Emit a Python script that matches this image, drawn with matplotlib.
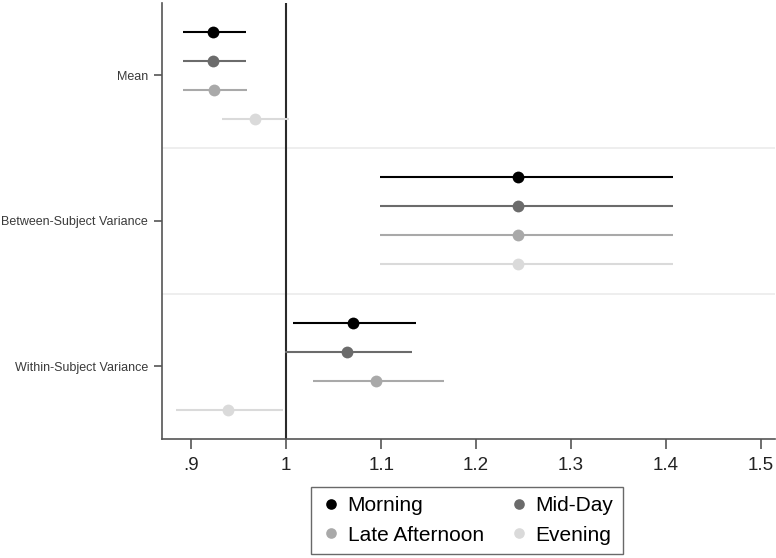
import matplotlib
matplotlib.use("Agg")
import matplotlib.pyplot as plt
import numpy as np

plt.rcParams['font.family'] = ['Liberation Sans', 'DejaVu Sans']

groups = ["Mean", "Between-Subject Variance", "Within-Subject Variance"]
series = ["Morning", "Mid-Day", "Late Afternoon", "Evening"]
colors = ["#000000", "#6b6b6b", "#a9a9a9", "#dadada"]

est = {
    "Morning":        [0.923, 1.244, 1.070],
    "Mid-Day":        [0.923, 1.244, 1.064],
    "Late Afternoon": [0.924, 1.244, 1.095],
    "Evening":        [0.967, 1.244, 0.939],
}
lo = {
    "Morning":        [0.891, 1.099, 1.007],
    "Mid-Day":        [0.891, 1.099, 0.999],
    "Late Afternoon": [0.891, 1.099, 1.028],
    "Evening":        [0.932, 1.099, 0.884],
}
hi = {
    "Morning":        [0.957, 1.408, 1.137],
    "Mid-Day":        [0.958, 1.408, 1.132],
    "Late Afternoon": [0.959, 1.408, 1.166],
    "Evening":        [1.003, 1.408, 0.996],
}
xticks = [0.9, 1.0, 1.1, 1.2, 1.3, 1.4, 1.5]
xticklabels = [".9", "1", "1.1", "1.2", "1.3", "1.4", "1.5"]

fig = plt.figure(figsize=(7.76, 5.58), dpi=100)
ax = fig.add_axes([162/776, 1-439/558, (775-162)/776, (439-2.7)/558])

nslot = 5
handles = {}
for i, s in enumerate(series):
    y = np.arange(len(groups)) * nslot + i + 1
    e = np.array(est[s]); l = np.array(lo[s]); h = np.array(hi[s])
    ax.hlines(y, l, h, color=colors[i], lw=1.5, zorder=3)
    handles[s], = ax.plot(e, y, 'o', color=colors[i], ms=8.5, mec='none', zorder=4, label=s)

for k in range(1, len(groups)):
    ax.axhline(k * nslot, color="#ebebeb", lw=1.2, zorder=1)

ax.axvline(1.0, color="#2a2a2a", lw=1.5, zorder=2)

ax.set_ylim(len(groups) * nslot, 0)
ax.set_xlim(0.869, 1.515)
ax.set_yticks(np.arange(len(groups)) * nslot + 2.5)
ax.set_yticklabels(groups, fontsize=9.0, color="#3a3a3a")
ax.set_xticks(xticks)
ax.set_xticklabels(xticklabels, fontsize=13.5, color="#222222")

for sp in ["top", "right"]:
    ax.spines[sp].set_visible(False)
for sp in ["left", "bottom"]:
    ax.spines[sp].set_color("#555555")
    ax.spines[sp].set_linewidth(1.2)
ax.tick_params(axis='x', length=7, width=1.2, color="#555555", pad=6)
ax.tick_params(axis='y', length=6, width=1.2, color="#555555", pad=4)

order = ["Morning", "Late Afternoon", "Mid-Day", "Evening"]
leg = fig.legend([handles[s] for s in order], order,
                 loc='lower center', bbox_to_anchor=(467/776, 4/558), ncol=2,
                 borderaxespad=0,
                 fontsize=15, frameon=True, fancybox=False, edgecolor="#444444",
                 handletextpad=0.3, columnspacing=1.2, handlelength=1.0,
                 borderpad=0.45, labelspacing=0.5, markerscale=0.9)
leg.get_frame().set_linewidth(1.0)

fig.savefig("out.png", dpi=100)
